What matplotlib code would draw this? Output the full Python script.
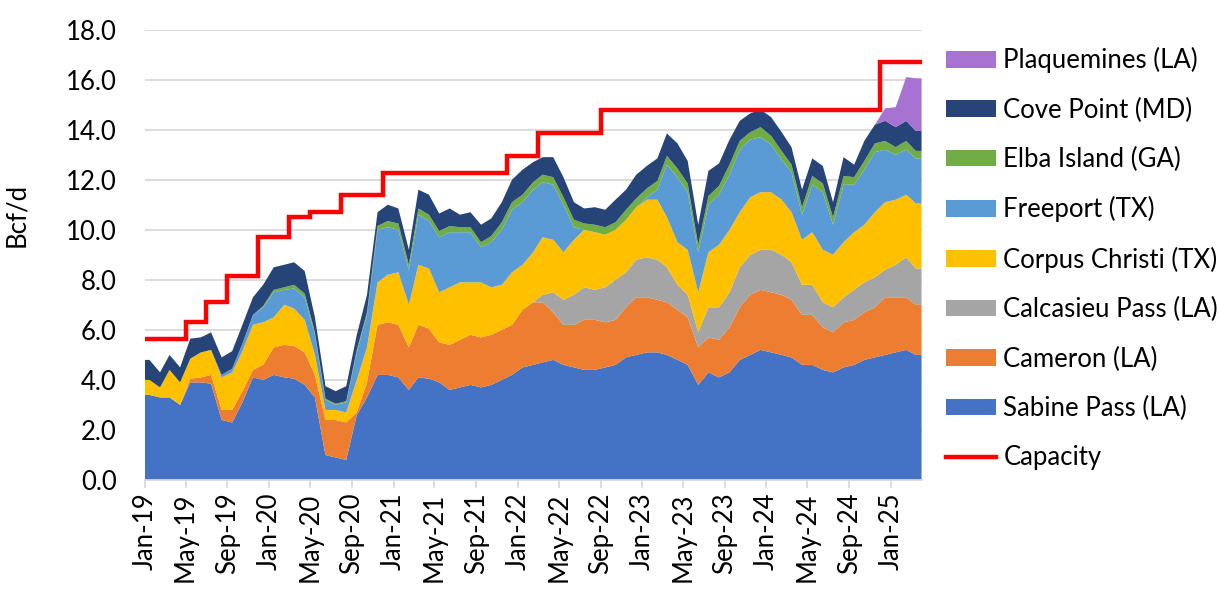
import numpy as np
import pandas as pd
import matplotlib
matplotlib.use('Agg')
import matplotlib.pyplot as plt
import matplotlib.dates as mdates
from matplotlib.patches import Patch
from matplotlib.lines import Line2D

plt.rcParams['font.family'] = ['Lato', 'DejaVu Sans']
FS = 18.5

# monthly averages (Bcf/d), Jan-2019 .. Mar-2025
sabine = [3.4, 3.3, 3.3, 3.0, 3.9, 3.9, 3.85, 2.4, 2.3, 3.1, 4.1, 4.0,
          4.2, 4.1, 4.05, 3.8, 3.3, 1.0, 0.9, 0.8, 2.6, 3.3, 4.2, 4.2,
          4.1, 3.6, 4.1, 4.05, 3.9, 3.6, 3.7, 3.8, 3.7, 3.8, 4.0, 4.2,
          4.5, 4.6, 4.7, 4.8, 4.6, 4.5, 4.4, 4.4, 4.5, 4.6, 4.9, 5.0,
          5.1, 5.1, 5.0, 4.8, 4.6, 3.8, 4.3, 4.1, 4.3, 4.8, 5.0, 5.2,
          5.1, 5.0, 4.9, 4.6, 4.6, 4.4, 4.3, 4.5, 4.6, 4.8, 4.9, 5.0,
          5.1, 5.2, 5.0]
cameron = [0, 0, 0, 0, 0.15, 0.2, 0.35, 0.4, 0.5, 0.45, 0.3, 0.6,
           1.1, 1.3, 1.3, 1.3, 0.9, 1.4, 1.5, 1.5, 0.1, 0.6, 2.0, 2.1,
           2.1, 1.7, 2.1, 2.0, 1.6, 1.8, 1.9, 2.0, 2.0, 2.0, 2.0, 2.0,
           2.3, 2.5, 2.4, 1.9, 1.6, 1.7, 2.0, 2.0, 1.8, 1.8, 2.0, 2.3,
           2.2, 2.1, 2.1, 2.0, 1.9, 1.5, 1.4, 1.5, 1.8, 2.1, 2.4, 2.4,
           2.4, 2.4, 2.3, 2.0, 2.0, 1.7, 1.6, 1.8, 1.8, 1.9, 2.0, 2.3,
           2.2, 2.1, 2.0]
calcasieu = [0] * 36 + \
            [0, 0, 0.3, 0.8, 1.0, 1.2, 1.3, 1.2, 1.4, 1.6, 1.4, 1.5,
             1.6, 1.6, 1.4, 1.0, 0.9, 0.6, 1.2, 1.3, 1.4, 1.6, 1.6, 1.6,
             1.7, 1.6, 1.5, 1.2, 1.2, 1.0, 1.0, 1.0, 1.2, 1.2, 1.2, 1.1,
             1.3, 1.6, 1.45]
corpus = [0.6, 0.4, 1.1, 0.9, 0.8, 1.0, 1.0, 1.3, 1.5, 1.6, 1.8, 1.7,
          1.2, 1.6, 1.5, 1.3, 0.8, 0.4, 0.4, 0.4, 1.3, 1.4, 1.7, 1.9,
          2.1, 1.7, 2.4, 2.4, 2.0, 2.3, 2.3, 2.1, 2.2, 1.9, 1.8, 2.1,
          1.8, 2.0, 2.3, 2.1, 1.9, 2.2, 2.3, 2.3, 2.1, 2.0, 2.1, 2.1,
          2.3, 2.4, 2.0, 1.7, 1.8, 1.6, 2.2, 2.5, 2.5, 2.2, 2.3, 2.3,
          2.3, 2.2, 2.0, 1.8, 2.1, 2.1, 2.1, 2.2, 2.3, 2.3, 2.6, 2.7,
          2.6, 2.5, 2.6]
freeport = [0, 0, 0, 0, 0, 0, 0, 0.1, 0.15, 0.3, 0.4, 0.6,
            1.0, 0.6, 0.8, 0.9, 0.8, 0.4, 0.2, 0.4, 1.1, 1.3, 2.1, 1.9,
            1.7, 1.4, 2.0, 1.9, 2.2, 2.2, 2.0, 2.0, 1.4, 1.8, 2.2, 2.5,
            2.5, 2.5, 2.2, 2.2, 1.9, 0.5, 0, 0, 0, 0, 0, 0,
            0.1, 0.4, 2.1, 2.6, 2.3, 1.6, 1.9, 2.0, 2.2, 2.5, 2.3, 2.2,
            1.9, 1.6, 1.6, 1.0, 1.9, 2.3, 1.2, 2.3, 1.9, 2.2, 2.4, 2.1,
            1.8, 1.8, 1.8]
elba = [0] * 11 + [0.05,
        0.1, 0.1, 0.15, 0.15, 0.1, 0.05, 0.05, 0.05, 0.1, 0.1, 0.15, 0.25,
        0.25, 0.2, 0.25, 0.25, 0.25, 0.25, 0.2, 0.2, 0.2, 0.25, 0.3, 0.3,
        0.3, 0.3, 0.3, 0.3, 0.3, 0.3, 0.25, 0.3, 0.3, 0.3, 0.4, 0.35,
        0.35, 0.35, 0.35, 0.35, 0.35, 0.3, 0.35, 0.35, 0.4, 0.35, 0.3, 0.4,
        0.35, 0.35, 0.3, 0.3, 0.35, 0.35, 0.3, 0.35, 0.3, 0.35, 0.35, 0.35,
        0.3, 0.35, 0.3]
cove = [0.8, 0.6, 0.6, 0.6, 0.8, 0.6, 0.7, 0.7, 0.7, 0.75, 0.7, 0.85,
        0.9, 0.9, 0.9, 0.9, 0.6, 0.5, 0.5, 0.6, 0.6, 0.7, 0.55, 0.65,
        0.6, 0.6, 0.75, 0.8, 0.7, 0.7, 0.5, 0.6, 0.7, 0.7, 0.8, 0.9,
        1.0, 0.8, 0.7, 0.8, 0.8, 0.7, 0.6, 0.7, 0.7, 0.9, 0.8, 0.95,
        0.9, 0.9, 0.9, 1.0, 0.9, 0.8, 1.0, 0.9, 1.0, 0.8, 0.75, 0.7,
        0.75, 0.75, 0.7, 0.7, 0.7, 0.7, 0.6, 0.75, 0.5, 0.8, 0.75, 0.8,
        0.8, 0.8, 0.8]
plaquemines = [0] * 71 + [0.5, 0.8, 1.75, 2.1]

cap_dates = ['2019-01-01', '2019-05-01', '2019-07-01', '2019-09-01', '2019-12-01',
             '2020-03-01', '2020-05-01', '2020-08-01', '2020-12-01', '2021-12-01',
             '2022-03-01', '2022-09-01', '2024-12-01']
cap_vals = [5.65, 6.3, 7.1, 8.15, 9.7, 10.5, 10.7, 11.4, 12.25, 12.95, 13.85, 14.8, 16.7]

names = ['Sabine Pass (LA)', 'Cameron (LA)', 'Calcasieu Pass (LA)', 'Corpus Christi (TX)',
         'Freeport (TX)', 'Elba Island (GA)', 'Cove Point (MD)', 'Plaquemines (LA)']
colors = ['#4472C4', '#ED7D31', '#A5A5A5', '#FFC000', '#5B9BD5', '#70AD47', '#264478', '#A872D2']
series = [sabine, cameron, calcasieu, corpus, freeport, elba, cove, plaquemines]

start = pd.Timestamp('2019-01-01')
end = pd.Timestamp('2025-04-01')
mid = pd.date_range('2019-01-01', '2025-03-01', freq='MS') + pd.Timedelta(days=14)
xs = [start] + list(mid) + [end]
ys = [np.r_[s[0], s, s[-1]] for s in series]

fig = plt.figure(figsize=(12.18, 5.9), dpi=100)
ax = fig.add_axes([0.1188, 0.1864, 0.6378, 0.7636])

ax.stackplot(xs, *ys, colors=colors, linewidth=0)

cx = [pd.Timestamp(d) for d in cap_dates] + [end]
cy = cap_vals + [cap_vals[-1]]
ax.plot(cx, cy, drawstyle='steps-post', color='#FF0000', lw=3.2, solid_joinstyle='miter')

ax.set_xlim(start, end)
ax.set_ylim(0, 18)
ax.set_yticks(np.arange(0, 18.1, 2))
ax.yaxis.set_major_formatter(matplotlib.ticker.FormatStrFormatter('%.1f'))
ax.grid(axis='y', color='#D9D9D9', lw=1.3)
ax.set_axisbelow(True)
ax.xaxis.set_major_locator(mdates.MonthLocator(bymonth=[1, 5, 9]))
ax.xaxis.set_major_formatter(mdates.DateFormatter('%b-%y'))
for s in ['top', 'right', 'left']:
    ax.spines[s].set_visible(False)
ax.spines['bottom'].set_color('#D9D9D9')
ax.spines['bottom'].set_linewidth(1.3)
ax.tick_params(axis='y', length=0, labelsize=FS, pad=20)
ax.tick_params(axis='x', length=6, color='#D9D9D9', width=1.3, labelsize=FS,
               labelrotation=90, pad=3)
ax.set_ylabel('Bcf/d', fontsize=FS)
ax.yaxis.set_label_coords(-0.149, 0.588)

handles = [Patch(facecolor=c) for c in colors[::-1]] + \
          [Line2D([], [], color='#FF0000', lw=3.2)]
labels = names[::-1] + ['Capacity']
fig.legend(handles, labels, loc='upper left', bbox_to_anchor=(0.7767, 0.92),
           frameon=False, fontsize=FS, borderpad=0, borderaxespad=0,
           handlelength=1.95, handleheight=0.62, handletextpad=0.28, labelspacing=0.945)

fig.savefig('out.png', dpi=100)
